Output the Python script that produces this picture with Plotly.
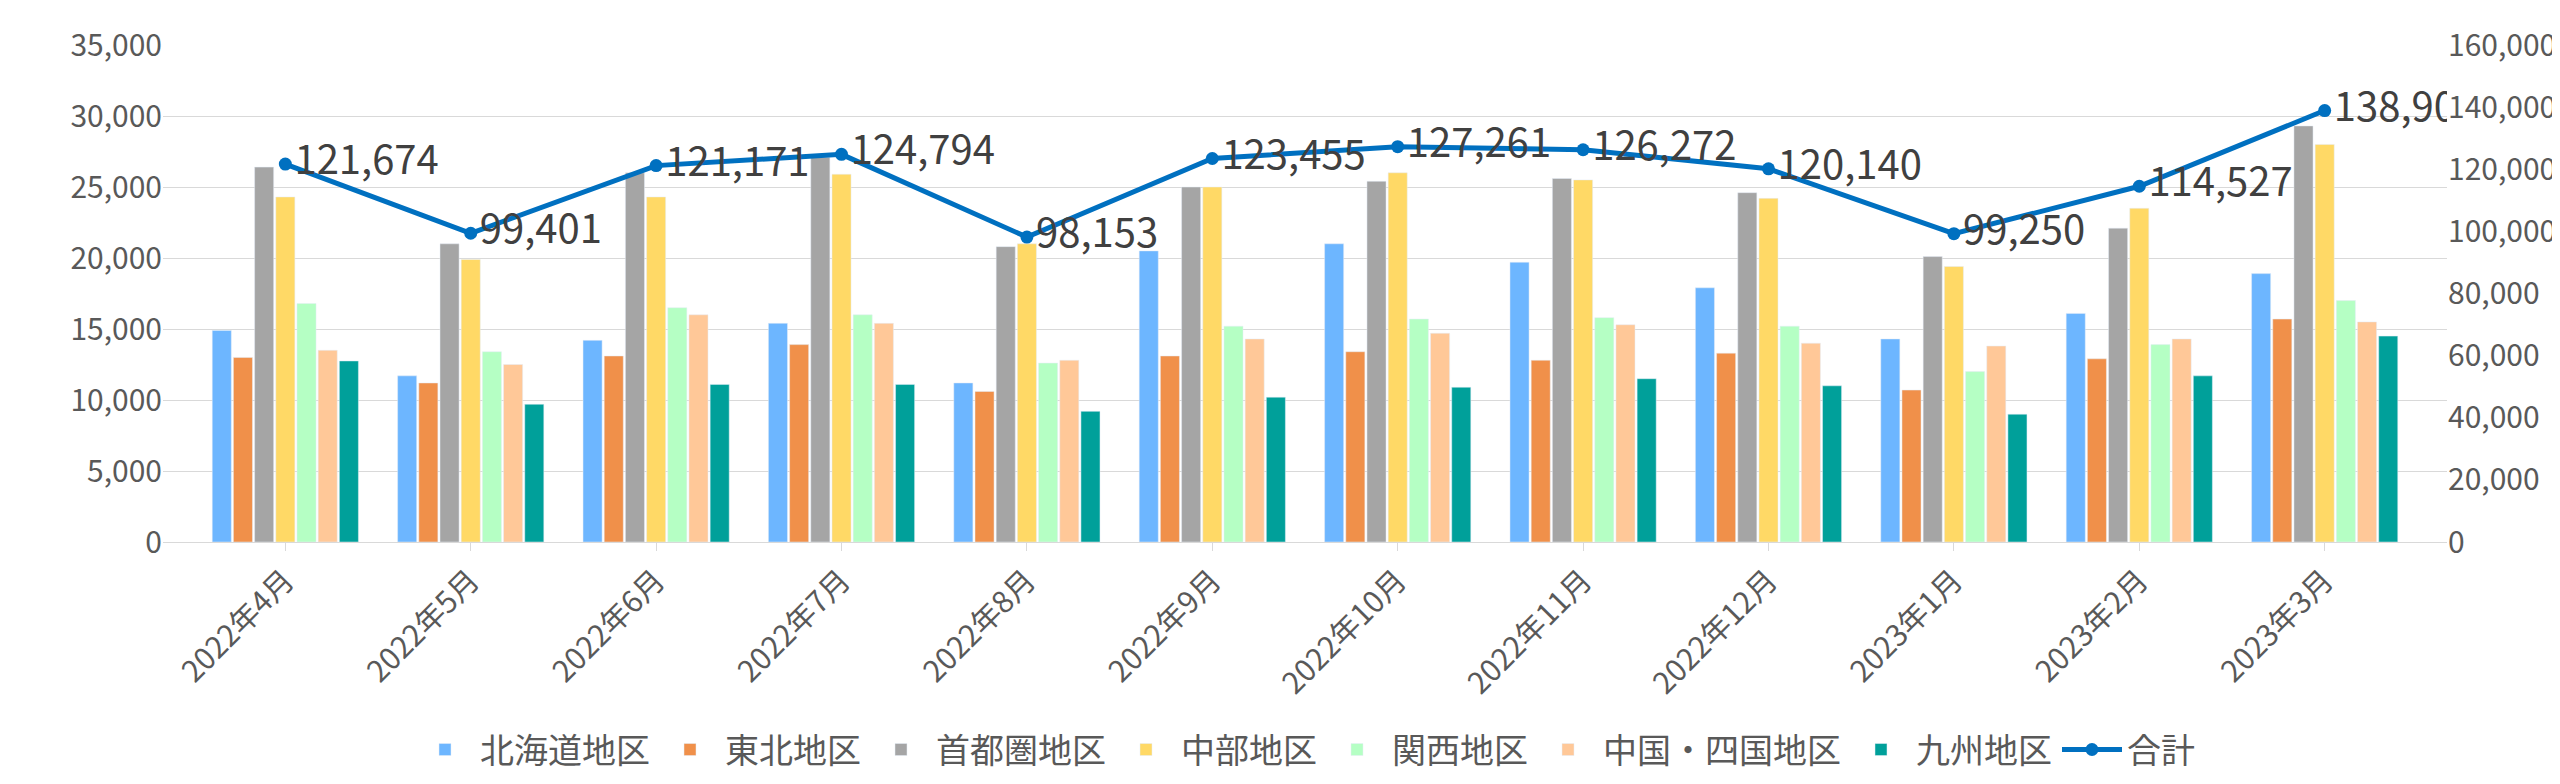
import plotly.graph_objects as go

months = ["2022年4月", "2022年5月", "2022年6月", "2022年7月", "2022年8月", "2022年9月",
          "2022年10月", "2022年11月", "2022年12月", "2023年1月", "2023年2月", "2023年3月"]

hokkaido = [14900, 11700, 14200, 15400, 11200, 20500, 21000, 19700, 17900, 14300, 16100, 18900]
tohoku = [13000, 11200, 13100, 13900, 10600, 13100, 13400, 12800, 13300, 10700, 12900, 15700]
shuto = [26400, 21000, 26000, 27100, 20800, 25000, 25400, 25600, 24600, 20100, 22100, 29300]
chubu = [24300, 19900, 24300, 25900, 21000, 25000, 26000, 25500, 24200, 19400, 23500, 28000]
kansai = [16800, 13400, 16500, 16000, 12600, 15200, 15700, 15800, 15200, 12000, 13900, 17000]
chushikoku = [13500, 12500, 16000, 15400, 12800, 14300, 14700, 15300, 14000, 13800, 14300, 15500]
kyushu = [12750, 9700, 11100, 11100, 9200, 10200, 10900, 11500, 11000, 9000, 11700, 14500]
total = [121674, 99401, 121171, 124794, 98153, 123455, 127261, 126272, 120140, 99250, 114527, 138902]

series = [
    ("北海道地区", hokkaido, "#6DB6FF"),
    ("東北地区", tohoku, "#F0904A"),
    ("首都圏地区", shuto, "#A5A5A5"),
    ("中部地区", chubu, "#FFD966"),
    ("関西地区", kansai, "#B5FFC4"),
    ("中国・四国地区", chushikoku, "#FFC898"),
    ("九州地区", kyushu, "#00A09A"),
]

fig = go.Figure()
for name, vals, color in series:
    fig.add_trace(go.Bar(x=months, y=vals, name=name, marker_color=color))

fig.add_trace(go.Scatter(
    x=months, y=total, name="合計", yaxis="y2", mode="lines+markers+text",
    line=dict(color="#0070C0", width=5), marker=dict(size=13, color="#0070C0"),
    text=[f"{v:,}" for v in total], textposition="middle right",
    textfont=dict(size=40, color="#404040"),
))

font = "Noto Sans CJK JP"
fig.update_layout(
    width=2560, height=784,
    font=dict(family=font, size=30, color="#595959"),
    plot_bgcolor="white", paper_bgcolor="white",
    margin=dict(l=155, r=86, t=36, b=250),
    barmode="group", bargap=0.2, bargroupgap=0.1,
    xaxis=dict(tickangle=-45, showline=True, linecolor="#D9D9D9", ticks="outside",
               tickcolor="#D9D9D9", ticklen=8),
    yaxis=dict(range=[0, 35000], dtick=5000, tickformat=",", gridcolor="#D9D9D9",
               zeroline=False),
    yaxis2=dict(range=[0, 160000], dtick=20000, tickformat=",", overlaying="y",
                side="right", showgrid=False, zeroline=False),
    legend=dict(orientation="h", x=0.5, xanchor="center", y=-0.36, yanchor="top",
                font=dict(size=34, color="#595959"), itemwidth=60),
)

fig.write_html("out.html")
